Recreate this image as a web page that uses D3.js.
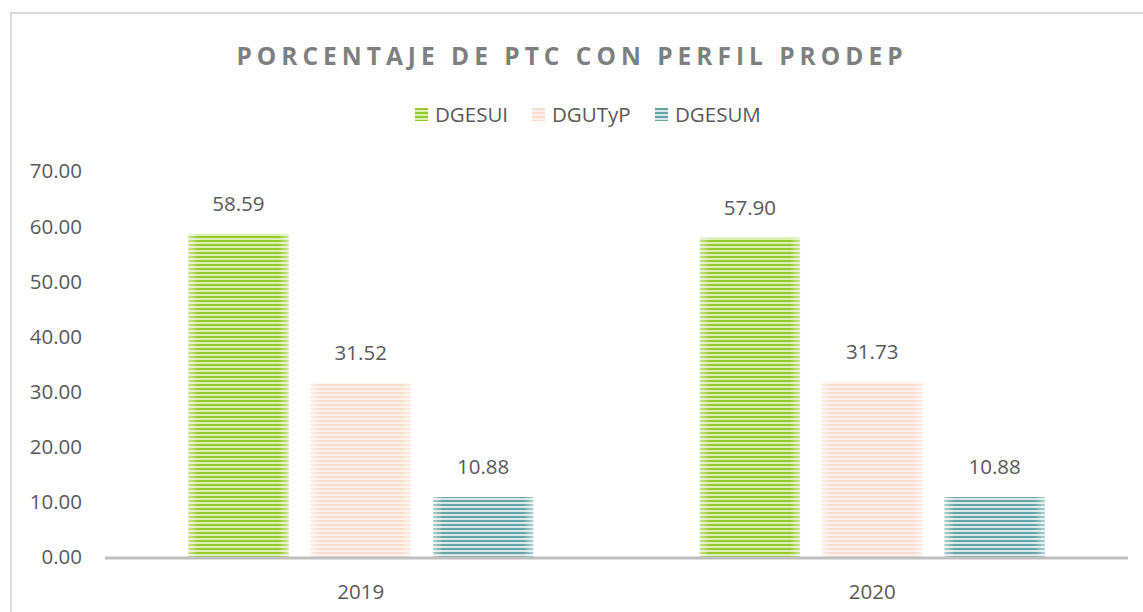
<!DOCTYPE html>
<html>
<head>
<meta charset="utf-8">
<script src="https://cdn.jsdelivr.net/npm/d3@7"></script>
<style>
  body { margin: 0; background: #fff; }
  svg { display: block; font-family: "Open Sans", "Noto Sans", sans-serif; }
</style>
</head>
<body>
<div class="chart"></div>
<script>
// data
const years = ["2019", "2020"];
const series = ["DGESUI", "DGUTyP", "DGESUM"];
const values = {
  DGESUI: [58.59, 57.90],
  DGUTyP: [31.52, 31.73],
  DGESUM: [10.88, 10.88]
};
const yTicks = [0, 10, 20, 30, 40, 50, 60, 70];

const wdth = 1143, hght = 612;
const textColor = "#595959";
const fontSize = 20.5;

// stripe colours per series: dark, light
const stripes = {
  DGESUI: ["#98c92a", "#dcefb6"],
  DGUTyP: ["#f8dccd", "#fdf1ea"],
  DGESUM: ["#6aa3a3", "#d8e9e9"]
};

const svg = d3.select(".chart")
  .append("svg")
  .attr("width", wdth)
  .attr("height", hght);

const defs = svg.append("defs");

series.forEach((s, i) => {
  const p = defs.append("pattern")
    .attr("id", "pat" + i)
    .attr("patternUnits", "userSpaceOnUse")
    .attr("width", 8)
    .attr("height", 4);
  p.append("rect").attr("width", 8).attr("height", 4).attr("fill", stripes[s][1]);
  p.append("rect").attr("width", 8).attr("height", 2).attr("fill", stripes[s][0]);
});

// soft light edges on each bar
const glow = defs.append("linearGradient")
  .attr("id", "edgeGlow")
  .attr("x1", "0").attr("x2", "1").attr("y1", "0").attr("y2", "0");
[[0, 0.5], [0.1, 0], [0.9, 0], [1, 0.5]].forEach(([o, a]) => {
  glow.append("stop").attr("offset", o).attr("stop-color", "#fff").attr("stop-opacity", a);
});

// outer frame
svg.append("rect")
  .attr("x", 11).attr("y", 13)
  .attr("width", wdth).attr("height", hght)
  .attr("fill", "none")
  .attr("stroke", "#d9d9d9")
  .attr("stroke-width", 2);

// title
svg.append("text")
  .attr("x", 572).attr("y", 65)
  .attr("text-anchor", "middle")
  .attr("fill", "#7f7f7f")
  .attr("font-weight", "bold")
  .attr("font-size", 24.5)
  .attr("letter-spacing", 5)
  .text("PORCENTAJE DE PTC CON PERFIL PRODEP");

const x = d3.scaleBand()
  .domain(years)
  .range([105, 1128]);

const xSub = d3.scaleBand()
  .domain(series)
  .range([0, x.bandwidth()])
  .paddingInner(0.18)
  .paddingOuter(0.68);

const y = d3.scaleLinear()
  .domain([0, 70])
  .range([557, 171]);

// y tick labels
svg.append("g")
  .selectAll("text")
  .data(yTicks)
  .enter()
  .append("text")
  .attr("x", 82)
  .attr("y", d => y(d))
  .attr("dy", "0.36em")
  .attr("text-anchor", "end")
  .attr("font-size", fontSize)
  .attr("fill", textColor)
  .text(d3.format(".2f"));

// bars
const groups = svg.append("g")
  .selectAll("g")
  .data(years)
  .enter()
  .append("g")
  .attr("transform", d => `translate(${x(d)},0)`);

groups.selectAll("g.bar")
  .data((d, yi) => series.map((s, si) => ({ s: s, si: si, v: values[s][yi] })))
  .enter()
  .append("g")
  .attr("class", "bar")
  .each(function (d) {
    const g = d3.select(this);
    g.append("rect")
      .attr("x", xSub(d.s))
      .attr("y", y(d.v))
      .attr("width", xSub.bandwidth())
      .attr("height", y(0) - y(d.v))
      .attr("fill", `url(#pat${d.si})`);
    g.append("rect")
      .attr("x", xSub(d.s))
      .attr("y", y(d.v))
      .attr("width", xSub.bandwidth())
      .attr("height", y(0) - y(d.v))
      .attr("fill", "url(#edgeGlow)");
    g.append("text")
      .attr("x", xSub(d.s) + xSub.bandwidth() / 2)
      .attr("y", y(d.v) - 23)
      .attr("text-anchor", "middle")
      .attr("font-size", fontSize)
      .attr("fill", textColor)
      .text(d3.format(".2f")(d.v));
  });

// x axis line
svg.append("line")
  .attr("x1", 105).attr("x2", 1128)
  .attr("y1", y(0) + 1).attr("y2", y(0) + 1)
  .attr("stroke", "#bfbfbf")
  .attr("stroke-width", 3);

// category labels
svg.append("g")
  .selectAll("text")
  .data(years)
  .enter()
  .append("text")
  .attr("x", d => x(d) + x.bandwidth() / 2)
  .attr("y", 599)
  .attr("text-anchor", "middle")
  .attr("font-size", fontSize)
  .attr("fill", textColor)
  .text(d => d);

// legend
const legendX = [415, 532, 655];
const legend = svg.append("g")
  .selectAll("g")
  .data(series)
  .enter()
  .append("g")
  .attr("transform", (d, i) => `translate(${legendX[i]},108)`);

legend.append("rect")
  .attr("width", 13).attr("height", 13)
  .attr("fill", (d, i) => `url(#pat${i})`);

legend.append("text")
  .attr("x", 20)
  .attr("y", 7)
  .attr("dy", "0.36em")
  .attr("font-size", fontSize)
  .attr("fill", textColor)
  .text(d => d);
</script>
</body>
</html>
